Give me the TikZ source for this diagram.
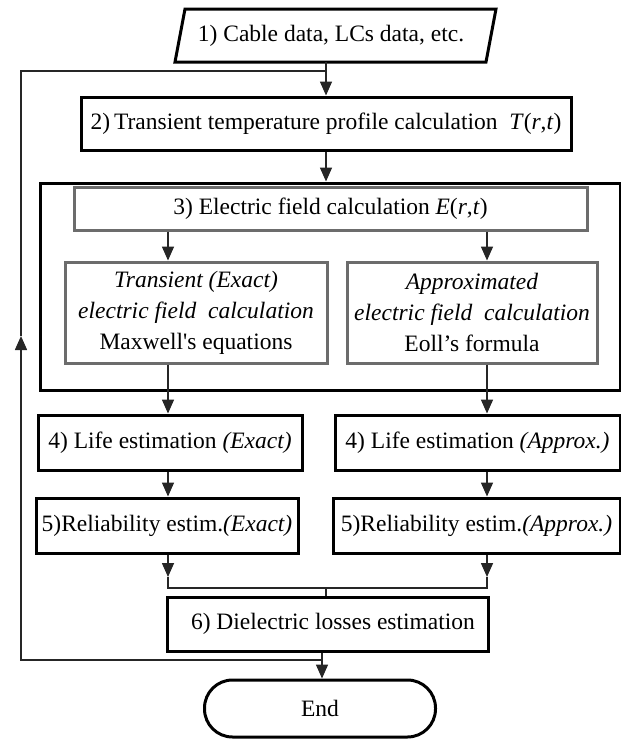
\documentclass[tikz,border=0pt]{standalone}
\usepackage{fontspec}
\setmainfont{Liberation Serif}
\usetikzlibrary{arrows.meta}
\begin{document}
\begin{tikzpicture}[x=1pt,y=-1pt,
  font=\fontsize{23.5}{31}\selectfont,
  bbox/.style={draw=black,line width=3pt,fill=white,inner sep=0pt,align=center},
  gbox/.style={draw=gray!85!black,line width=3pt,fill=white,inner sep=0pt,align=center},
  conn/.style={line width=1.6pt,draw=black!85},
  arr/.style={conn,-{Triangle[length=14pt,width=12pt]}}]
\useasboundingbox (0,0) rectangle (621,739);
% input parallelogram
\draw[line width=3pt] (175,62) -- (185,9) -- (496,9) -- (486,62) -- cycle;
\node[inner sep=0pt,minimum height=53pt] (in) at (331,35.5) {1) Cable data, LCs data, etc.};
% box 2
\node[bbox,minimum width=490pt,minimum height=53pt] (b2) at (326,123.5)
  {2)\,Transient temperature profile calculation \ \textit{T}(\textit{r},\textit{t})};
% group box
\node[bbox,minimum width=580pt,minimum height=207pt] (grp) at (330,286.5) {};
\node[gbox,minimum width=513pt,minimum height=43pt] (b3) at (330.5,208.5)
  {3) Electric field calculation \textit{E}(\textit{r},\textit{t})};
\node[gbox,minimum width=262pt,minimum height=101pt] (lg) at (196,312.5)
  {\textit{Transient (Exact)}\\ \textit{electric field\ \ calculation}\\ Maxwell\textquotesingle s equations};
\node[gbox,minimum width=250pt,minimum height=101pt] (rg) at (472,312.5)
  {\textit{Approximated}\\ \textit{electric field\ \ calculation}\\ Eoll’s formula};
% boxes 4 and 5
\node[bbox,minimum width=264pt,minimum height=55pt] (b4l) at (170,442.5) {4) Life estimation \textit{(Exact)}};
\node[bbox,minimum width=285pt,minimum height=55pt] (b4r) at (477.5,442.5) {4) Life estimation \textit{(Approx.)}};
\node[bbox,minimum width=262pt,minimum height=55pt] (b5l) at (167,525.5) {5)Reliability estim.\textit{(Exact)}};
\node[bbox,minimum width=287pt,minimum height=55pt] (b5r) at (476.5,525.5) {5)Reliability estim.\textit{(Approx.)}};
% box 6 and end
\node[bbox,minimum width=321pt,minimum height=54pt] (b6) at (327.5,624) {\hspace*{11pt}6) Dielectric losses estimation};
\node[bbox,rounded corners=28pt,minimum width=231pt,minimum height=57pt] (end) at (320,708.5) {End};
% column coordinates
\coordinate (lx) at (168,0);
\coordinate (rx) at (487,0);
\coordinate (mx) at (326,0);
\coordinate (jl) at (168,588);
\coordinate (jr) at (487,588);
\coordinate (jm) at (326,588);
\coordinate (tl) at (168,577);
\coordinate (tr) at (487,577);
\coordinate (fb1) at (322,660);
\coordinate (fb2) at (21,660);
\coordinate (fb3) at (21,336);
\coordinate (fb4) at (21,71);
\coordinate (fb5) at (327,71);
% connectors
\draw[arr] (in.south -| mx) -- (b2.north -| mx);
\draw[arr] (b2.south -| mx) -- (grp.north -| mx);
\draw[arr] (b3.south -| lx) -- (lg.north -| lx);
\draw[arr] (b3.south -| rx) -- (rg.north -| rx);
\draw[arr] (lg.south -| lx) -- (b4l.north -| lx);
\draw[arr] (rg.south -| rx) -- (b4r.north -| rx);
\draw[arr] (b4l.south -| lx) -- (b5l.north -| lx);
\draw[arr] (b4r.south -| rx) -- (b5r.north -| rx);
\draw[arr] (b5l.south -| lx) -- (tl);
\draw[arr] (b5r.south -| rx) -- (tr);
\draw[conn] (tl) -- (jl) -- (jr) -- (tr);
\draw[conn] (jm) -- (b6.north -| jm);
\draw[arr] (b6.south -| fb1) -- (end.north -| fb1);
\draw[arr] (fb1) -- (fb2) -- (fb3);
\draw[conn] (fb3) -- (fb4) -- (fb5);
\end{tikzpicture}
\end{document}
